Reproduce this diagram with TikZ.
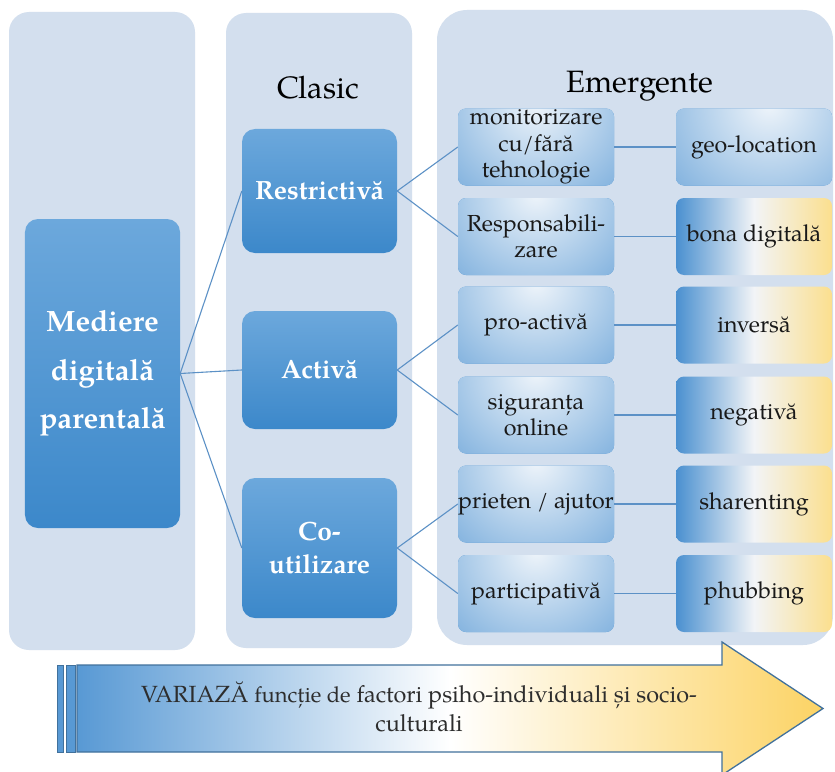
\documentclass[tikz,border=0pt]{standalone}
\usepackage{fontspec}
\setmainfont{TeX Gyre Pagella}
\usetikzlibrary{calc}
\definecolor{colbg}{RGB}{211,223,238}
\definecolor{btop}{RGB}{108,168,220}
\definecolor{bbot}{RGB}{60,136,202}
\definecolor{eblue}{RGB}{74,144,208}
\definecolor{eglow}{RGB}{238,244,250}
\definecolor{ywhite}{RGB}{242,244,247}
\definecolor{yell}{RGB}{251,223,142}
\definecolor{linec}{RGB}{92,145,198}
\definecolor{arrline}{RGB}{65,113,156}
\definecolor{ablue}{RGB}{88,153,212}
\definecolor{ayell}{RGB}{252,211,100}
\definecolor{txt}{RGB}{25,25,25}
\definecolor{atxt}{RGB}{45,45,45}
\begin{document}
\begin{tikzpicture}[x=1bp,y=-1bp,
  colbox/.style={fill=colbg, rounded corners=20bp},
  mainbox/.style={rounded corners=13bp, top color=btop, bottom color=bbot, draw=none, text=white,
    font=\fontsize{26.5}{33}\selectfont\bfseries, align=center, minimum width=155bp, inner sep=0pt},
  ebox/.style={rounded corners=8bp, fill=eblue, minimum width=156bp, minimum height=77bp,
    align=center, inner sep=0pt, text=txt, font=\fontsize{23.3}{26.5}\selectfont,
    path picture={\shade[inner color=eglow, outer color=eblue]
      ($(path picture bounding box.north)+(0,-4)$) circle (175bp);}},
  geobox/.style={ebox,
    path picture={\shade[inner color=eglow, outer color=eblue]
      ($(path picture bounding box.north)+(15,-4)$) circle (190bp);}},
  rbox/.style={rounded corners=8bp, minimum width=156bp, minimum height=77bp,
    align=center, inner sep=0pt, text=txt, font=\fontsize{23.3}{26.5}\selectfont,
    left color=eblue, right color=yell, middle color=ywhite},
  conn/.style={draw=linec, line width=1.1bp},
  coltitle/.style={font=\fontsize{31}{36}\selectfont, text=black}
]
\useasboundingbox (0,0) rectangle (835,772);
\fill[white] (0,0) rectangle (835,772);

% column backgrounds
\fill[colbox] (9,12) rectangle (195,650);
\fill[colbox] (226,13) rectangle (412,648);
\fill[colbg, rounded corners=30bp] (437,10) rectangle (833,645);

\node[coltitle] (clasic) at (318,88) {Clasic};
\node[coltitle] (emerg) at (640,86) {Emergente};

% main boxes
\node[mainbox, minimum height=309bp, font=\fontsize{29.5}{48.5}\selectfont\bfseries] (med) at (102.5,373.5) {Mediere\\digitală\\parentală};
\node[mainbox, minimum height=124bp] (res) at (319.5,191) {Restrictivă};
\node[mainbox, minimum height=118bp] (act) at (319.5,370) {Activă};
\node[mainbox, minimum height=140bp] (cou) at (319.5,548) {Co-\\utilizare};

% emergent boxes
\node[ebox] (e1) at (536,147) {monitorizare\\cu/fără\\tehnologie};
\node[ebox] (e2) at (536,236.5) {Responsabili-\\zare};
\node[ebox] (e3) at (536,325) {pro-activă};
\node[ebox] (e4) at (536,415) {siguranța\\online};
\node[ebox] (e5) at (536,504) {prieten / ajutor};
\node[ebox] (e6) at (536,593.5) {participativă};

\node[geobox] (r1) at (754,147) {geo-location};
\node[rbox] (r2) at (754,236.5) {bona digitală};
\node[rbox] (r3) at (754,325) {inversă};
\node[rbox] (r4) at (754,415) {negativă};
\node[rbox] (r5) at (754,504) {sharenting};
\node[rbox] (r6) at (754,593.5) {phubbing};

% connectors
\draw[conn] (med.east) -- (res.west);
\draw[conn] (med.east) -- (act.west);
\draw[conn] (med.east) -- (cou.west);
\draw[conn] (res.east) -- (e1.west);
\draw[conn] (res.east) -- (e2.west);
\draw[conn] (act.east) -- (e3.west);
\draw[conn] (act.east) -- (e4.west);
\draw[conn] (cou.east) -- (e5.west);
\draw[conn] (cou.east) -- (e6.west);
\foreach \i in {1,...,6} {\draw[conn] (e\i.east) -- (r\i.west);}

% bottom arrow
\filldraw[fill=ablue, draw=arrline, line width=0.9bp] (57,665) rectangle (63,752);
\filldraw[fill=ablue, draw=arrline, line width=0.9bp] (66,665) rectangle (75,752);
\shadedraw[left color=ablue, right color=ayell, middle color=white, draw=arrline, line width=1.3bp]
  (77,665) -- (722,665) -- (722,642) -- (823,708.5) -- (722,775) -- (722,752) -- (77,752) -- cycle;
\node[align=center, text=atxt, font=\fontsize{23.5}{29.5}\selectfont] (note) at (419,707)
  {VARIAZĂ {\fontsize{22}{29.5}\selectfont funcție de} factori psiho-individuali și socio-\\culturali};
\end{tikzpicture}
\end{document}
